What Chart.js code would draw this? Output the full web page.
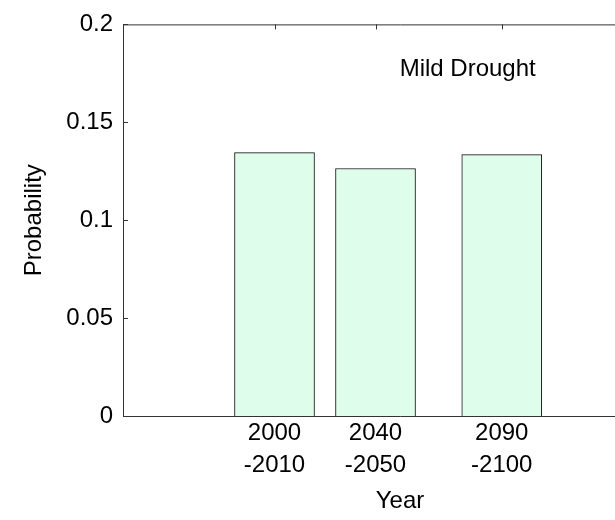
<!DOCTYPE html>
<html>
<head>
<meta charset="utf-8">
<script src="https://cdn.jsdelivr.net/npm/chart.js@4"></script>
<style>
	html, body { margin: 0; padding: 0; background: #fff; overflow: hidden; }
	#wrap { width: 615px; height: 520px; overflow: hidden; }
</style>
</head>
<body>
<div id="wrap"><canvas id="js-canvas" width="677" height="520"></canvas></div>
<script>
// Data
const periodMid = [2005, 2045, 2095]
const periodLabels = [['2000', '-2010'], ['2040', '-2050'], ['2090', '-2100']]
const probability = [0.1345, 0.1264, 0.1335]
const yTickValues = [0, 0.05, 0.1, 0.15, 0.2]
const yTickLabels = ['0', '0.05', '0.1', '0.15', '0.2']
const panelLabel = 'Mild Drought'

const canvas = document.getElementById('js-canvas')
const FONT = "'Liberation Sans', Arial, Helvetica, sans-serif"
const SIZE = 24

// Box frame (top, left, bottom) with inward ticks, like the original plot
const framePlugin = {
	id: 'frame',
	afterDraw(chart) {
		const { ctx, chartArea: a, scales } = chart
		ctx.save()
		ctx.strokeStyle = '#333'
		ctx.lineWidth = 1
		ctx.beginPath()
		ctx.moveTo(a.right + 5, a.top + 0.5)
		ctx.lineTo(a.left + 0.5, a.top + 0.5)
		ctx.lineTo(a.left + 0.5, a.bottom + 0.5)
		ctx.lineTo(a.right + 5, a.bottom + 0.5)
		// y ticks
		yTickValues.forEach(v => {
			const y = Math.round(scales.y.getPixelForValue(v)) + 0.5
			ctx.moveTo(a.left, y)
			ctx.lineTo(a.left + 5, y)
		})
		// x ticks on top
		periodMid.forEach(v => {
			const x = Math.round(scales.x.getPixelForValue(v)) + 0.5
			ctx.moveTo(x, a.top)
			ctx.lineTo(x, a.top + 5)
		})
		ctx.stroke()

		// panel label
		ctx.fillStyle = '#000'
		ctx.font = SIZE + 'px ' + FONT
		ctx.textAlign = 'center'
		ctx.textBaseline = 'alphabetic'
		ctx.fillText(panelLabel, scales.x.getPixelForValue(2081.5), scales.y.getPixelForValue(0.1735))
		ctx.restore()
	}
}

const chart = new Chart(canvas, {
	type: 'bar',
	data: {
		datasets: [{
			data: periodMid.map((x, i) => ({ x: x, y: probability[i] })),
			backgroundColor: '#dffdeb',
			borderColor: '#111',
			borderWidth: 1,
			barThickness: 80
		}]
	},
	options: {
		responsive: false,
		animation: false,
		layout: { padding: { top: 19, left: 0, right: 0, bottom: 0 } },
		plugins: {
			legend: { display: false },
			tooltip: { enabled: false }
		},
		scales: {
			x: {
				type: 'linear',
				offset: false,
				min: 1945,
				max: 2164.4,
				grid: { display: false, offset: false, drawTicks: false },
				border: { display: false },
				afterBuildTicks: (scale) => {
					scale.ticks = periodMid.map(v => ({ value: v }))
				},
				afterFit: (scale) => { scale.height = 104 },
				ticks: {
					autoSkip: false,
					maxRotation: 0,
					padding: 1,
					color: '#000',
					font: { family: FONT, size: SIZE, lineHeight: 1.33 },
					callback: (v, i) => periodLabels[i]
				},
				title: {
					display: true,
					text: 'Year',
					color: '#000',
					font: { family: FONT, size: SIZE },
					padding: { top: 0, bottom: 4 }
				}
			},
			y: {
				min: 0,
				max: 0.2,
				grid: { display: false, drawTicks: false },
				border: { display: false },
				afterBuildTicks: (scale) => {
					scale.ticks = yTickValues.map(v => ({ value: v }))
				},
				afterFit: (scale) => { scale.width = 123 },
				ticks: {
					padding: 10,
					color: '#000',
					font: { family: FONT, size: SIZE },
					callback: (v, i) => yTickLabels[i]
				},
				title: {
					display: true,
					text: 'Probability',
					color: '#000',
					font: { family: FONT, size: SIZE },
					padding: { top: 20, bottom: 0 }
				}
			}
		}
	},
	plugins: [framePlugin]
})
</script>
</body>
</html>
